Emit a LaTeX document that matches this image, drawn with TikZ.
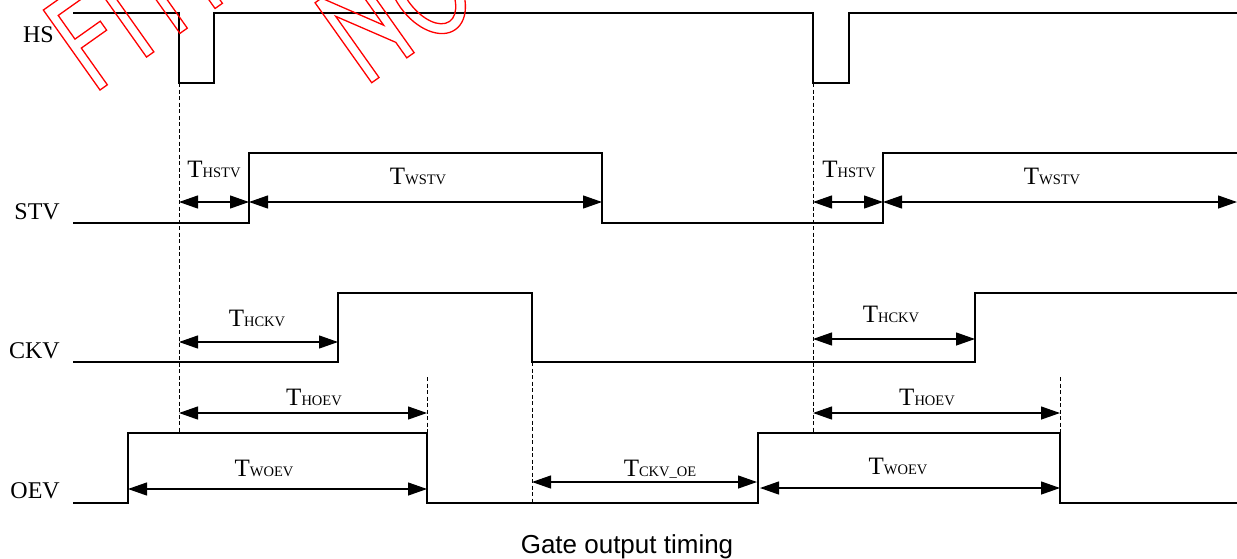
\documentclass[tikz,border=0pt]{standalone}
\usepackage{fontspec}
\setmainfont{Liberation Serif}
\newfontfamily\titlefont{Liberation Sans}
\usetikzlibrary{arrows.meta}
\newcommand{\tlab}[1]{{\fontsize{25}{25}\selectfont T}{\fontsize{14.5}{14.5}\selectfont #1}}
\tikzset{
  sig/.style={line width=1.2pt, line join=miter},
  guide/.style={line width=0.8pt, dash pattern=on 4pt off 2.5pt},
  dim/.style={line width=1.2pt, {Triangle[length=19pt,width=13pt]}-{Triangle[length=19pt,width=13pt]}},
  tl/.style={anchor=base, inner sep=0pt},
  sl/.style={anchor=base east, inner sep=0pt, font=\fontsize{24}{24}\selectfont},
  wm/.style={draw=red, line width=1.3pt, line join=miter}
}
\begin{document}
\begin{tikzpicture}[x=1pt,y=-1pt]
\useasboundingbox (0,0) rectangle (1237,558);

% signal names
\node[sl] (lHS)  at (54,42)  {HS};
\node[sl] (lSTV) at (60,219) {STV};
\node[sl] (lCKV) at (60,358) {CKV};
\node[sl] (lOEV) at (60,498) {OEV};

% waveforms
\draw[sig] (73,13) -- (179,13) -- (179,83) -- (214,83) -- (214,13) -- (813,13) -- (813,83) -- (849,83) -- (849,13) -- (1237,13);
\draw[sig] (73,223) -- (249,223) -- (249,153) -- (602,153) -- (602,223) -- (883,223) -- (883,153) -- (1237,153);
\draw[sig] (73,362) -- (338,362) -- (338,293) -- (532,293) -- (532,362) -- (975,362) -- (975,293) -- (1237,293);
\draw[sig] (73,503) -- (128,503) -- (128,433) -- (427,433) -- (427,503) -- (758,503) -- (758,433) -- (1060,433) -- (1060,503) -- (1237,503);

% dashed guides
\coordinate (g1t) at (179,83);   \coordinate (g1b) at (179,432);
\coordinate (g2t) at (813,83);   \coordinate (g2b) at (813,432);
\coordinate (g3t) at (427,377);  \coordinate (g3b) at (427,433);
\coordinate (g4t) at (1060,377); \coordinate (g4b) at (1060,433);
\coordinate (g5t) at (532,362);  \coordinate (g5b) at (532,503);
\draw[guide] (g1t) -- (g1b);
\draw[guide] (g2t) -- (g2b);
\draw[guide] (g3t) -- (g3b);
\draw[guide] (g4t) -- (g4b);
\draw[guide] (g5t) -- (g5b);

% dimension arrows
\coordinate (hs1a) at (179,202); \coordinate (hs1b) at (249,202);
\coordinate (ws1a) at (249,202); \coordinate (ws1b) at (602,202);
\coordinate (hs2a) at (813,202); \coordinate (hs2b) at (883,202);
\coordinate (ws2a) at (883,202); \coordinate (ws2b) at (1237,202);
\coordinate (hc1a) at (179,342); \coordinate (hc1b) at (338,342);
\coordinate (hc2a) at (813,339); \coordinate (hc2b) at (975,339);
\coordinate (ho1a) at (179,413); \coordinate (ho1b) at (427,413);
\coordinate (ho2a) at (813,413); \coordinate (ho2b) at (1060,413);
\coordinate (wo1a) at (128,489); \coordinate (wo1b) at (427,489);
\coordinate (wo2a) at (760,488); \coordinate (wo2b) at (1060,488);
\coordinate (coa)  at (532,482); \coordinate (cob)  at (757,482);
\draw[dim] (hs1a) -- (hs1b);
\draw[dim] (ws1a) -- (ws1b);
\draw[dim] (hs2a) -- (hs2b);
\draw[dim] (ws2a) -- (ws2b);
\draw[dim] (hc1a) -- (hc1b);
\draw[dim] (hc2a) -- (hc2b);
\draw[dim] (ho1a) -- (ho1b);
\draw[dim] (ho2a) -- (ho2b);
\draw[dim] (wo1a) -- (wo1b);
\draw[dim] (wo2a) -- (wo2b);
\draw[dim] (coa) -- (cob);

% timing labels
\node[tl] (tHSTV1) at (214,177)  {\tlab{HSTV}};
\node[tl] (tWSTV1) at (418,184)  {\tlab{WSTV}};
\node[tl] (tHSTV2) at (849,177)  {\tlab{HSTV}};
\node[tl] (tWSTV2) at (1052,184) {\tlab{WSTV}};
\node[tl] (tHCKV1) at (257,326)  {\tlab{HCKV}};
\node[tl] (tHCKV2) at (891,322)  {\tlab{HCKV}};
\node[tl] (tHOEV1) at (314,405)  {\tlab{HOEV}};
\node[tl] (tHOEV2) at (927,405)  {\tlab{HOEV}};
\node[tl] (tWOEV1) at (264,476)  {\tlab{WOEV}};
\node[tl] (tWOEV2) at (898,474)  {\tlab{WOEV}};
\node[tl] (tCKVOE) at (660,476)  {\tlab{CKV\_OE}};

% caption
\node[anchor=base, inner sep=0pt, font=\titlefont\fontsize{26}{26}\selectfont] (title) at (627,553) {Gate output timing};

% watermark (outlined letters)
\begin{scope}
\clip (0,0) rectangle (1237,558);
\begin{scope}[shift={(100,90)}, x={(0.816pt,0.578pt)}, y={(-0.578pt,0.816pt)}]
  \draw[wm] (0,0) -- (9,0) -- (9,45) -- (40,45) -- (40,56) -- (9,56) -- (9,85) -- (48,85) -- (48,98) -- (0,98) -- cycle;
  \draw[wm] (57,0) -- (66,0) -- (66,98) -- (57,98) -- cycle;
  \draw[wm] (98,0) -- (107,0) -- (107,75) -- (141,19) -- (141,0) -- (150,0) -- (150,98) -- (141,98) -- (141,40) -- (106,98) -- (98,98) -- cycle;
\end{scope}
\begin{scope}[shift={(371.7,82.7)}, x={(0.816pt,0.578pt)}, y={(-0.578pt,0.816pt)}]
  \draw[wm] (0,0) -- (9,0) -- (9,75) -- (43,19) -- (43,0) -- (52,0) -- (52,98) -- (43,98) -- (43,40) -- (8,98) -- (0,98) -- cycle;
  \draw[wm] (99,45) ellipse [x radius=32, y radius=50];
  \draw[wm] (99,45) ellipse [x radius=22, y radius=40];
\end{scope}
\end{scope}
\end{tikzpicture}
\end{document}
